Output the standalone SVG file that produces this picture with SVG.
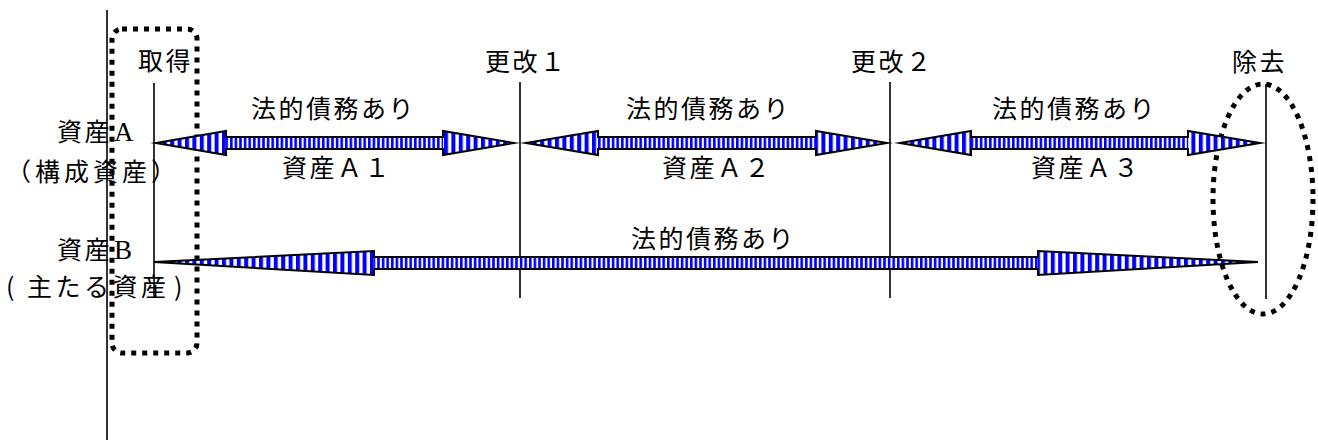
<svg xmlns="http://www.w3.org/2000/svg" width="1318" height="440" viewBox="0 0 1318 440">
<style>
text{font-family:"Noto Sans CJK JP","Noto Sans",sans-serif;font-size:25px;fill:#000;letter-spacing:2.5px}
.ser{font-family:"Liberation Serif",serif;font-size:27px}
.line{stroke:#000;stroke-width:1.6;fill:none}
.dots{stroke:#000;stroke-width:5;fill:none;stroke-dasharray:5 6}
.outline{fill:none;stroke:#000;stroke-width:2;stroke-linejoin:miter;stroke-miterlimit:10}
</style>
<defs>
<pattern id="fine" width="4.6" height="10" patternUnits="userSpaceOnUse"><rect width="4.6" height="10" fill="#fff"/><rect width="2.6" height="10" fill="#00f"/></pattern>
<pattern id="coarse" width="7.4" height="10" patternUnits="userSpaceOnUse"><rect width="7.4" height="10" fill="#fff"/><rect width="4" height="10" fill="#00f"/></pattern>
</defs>
<rect width="1318" height="440" fill="#fff"/>
<g id="axis"><line class="line" x1="107" y1="10" x2="107" y2="440" stroke-width="2"/></g>
<g id="timeline-marks">
<line class="line" x1="154" y1="83" x2="154" y2="298"/>
<line class="line" x1="520" y1="82" x2="520" y2="298"/>
<line class="line" x1="890" y1="82" x2="890" y2="298"/>
<line class="line" x1="1266" y1="84" x2="1266" y2="299"/>
</g>
<g id="acquire"><text x="138" y="70">取得</text><rect class="dots" x="112" y="29" width="85" height="324" rx="10"/></g>
<g id="renew1"><text x="485" y="71">更改１</text></g>
<g id="renew2"><text x="851" y="71">更改２</text></g>
<g id="remove"><text x="1232" y="71">除去</text><ellipse class="dots" cx="1263" cy="199" rx="50" ry="115"/></g>
<g id="asset-a-label">
<text x="57" y="141">資産<tspan class="ser" x="114">A</tspan></text>
<text x="6" y="181" style="letter-spacing:4px">（構成資産）</text>
</g>
<g id="asset-b-label">
<text x="57" y="259">資産<tspan class="ser" x="114">B</tspan></text>
<text y="296" style="letter-spacing:3.5px"><tspan x="6">(</tspan><tspan x="27">主たる資産</tspan><tspan x="174">)</tspan></text>
</g>
<g id="connectors">
<g id="arrow-a1">
<rect x="226" y="137" width="217" height="12" fill="url(#fine)"/>
<polygon points="156,143 226,131 226,155" fill="url(#coarse)"/>
<polygon points="514,143 443,131 443,155" fill="url(#coarse)"/>
<polygon class="outline" points="156,143 226,131 226,137 443,137 443,131 514,143 443,155 443,149 226,149 226,155"/>
</g>
<g id="arrow-a2">
<rect x="598" y="137" width="218" height="12" fill="url(#fine)"/>
<polygon points="526,143 598,131 598,155" fill="url(#coarse)"/>
<polygon points="887,143 816,131 816,155" fill="url(#coarse)"/>
<polygon class="outline" points="526,143 598,131 598,137 816,137 816,131 887,143 816,155 816,149 598,149 598,155"/>
</g>
<g id="arrow-a3">
<rect x="971" y="137" width="217" height="12" fill="url(#fine)"/>
<polygon points="900,143 971,131 971,155" fill="url(#coarse)"/>
<polygon points="1260,143 1188,131 1188,155" fill="url(#coarse)"/>
<polygon class="outline" points="900,143 971,131 971,137 1188,137 1188,131 1260,143 1188,155 1188,149 971,149 971,155"/>
</g>
<g id="arrow-b">
<rect x="374" y="257" width="664" height="12" fill="url(#fine)"/>
<polygon points="154,262 374,251 374,275" fill="url(#coarse)"/>
<polygon points="1258,262 1038,251 1038,275" fill="url(#coarse)"/>
<polygon class="outline" points="154,262 374,251 374,257 1038,257 1038,251 1258,262 1038,275 1038,269 374,269 374,275"/>
</g>
<text x="251" y="118">法的債務あり</text>
<text x="282" y="177">資産Ａ１</text>
<text x="626" y="118">法的債務あり</text>
<text x="662" y="177">資産Ａ２</text>
<text x="992" y="118">法的債務あり</text>
<text x="1031" y="177">資産Ａ３</text>
<text x="631" y="248">法的債務あり</text>
</g>
</svg>
